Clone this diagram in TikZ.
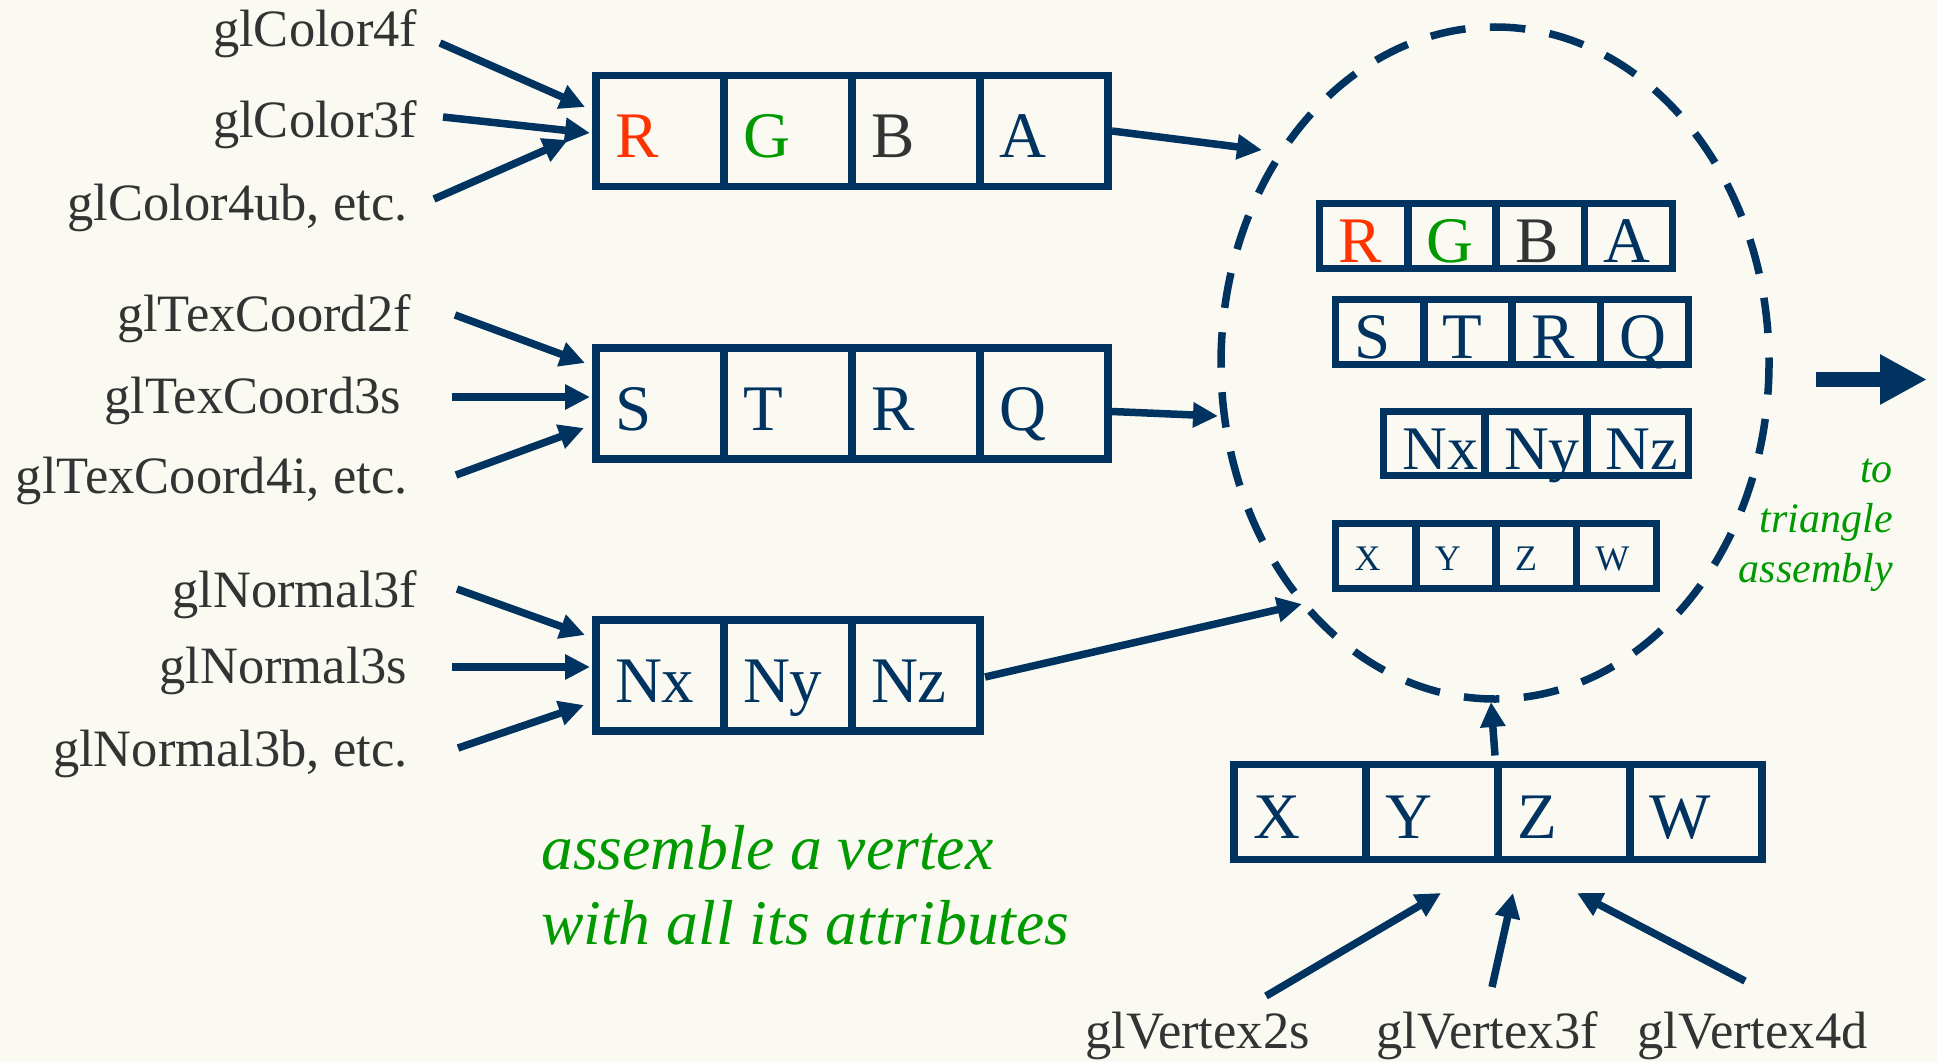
\documentclass[tikz,border=0pt]{standalone}
\usepackage{fontspec}
\setmainfont{Liberation Serif}
\usetikzlibrary{arrows.meta,shapes.geometric}

\definecolor{navy}{RGB}{0,51,96}
\definecolor{ink}{RGB}{51,51,51}
\definecolor{redch}{RGB}{255,51,0}
\definecolor{greench}{RGB}{0,153,0}
\definecolor{paper}{RGB}{250,250,243}

\tikzset{
  % one cell of an attribute register
  cellbase/.style={draw=navy, line width=7.5pt, rectangle, inner ysep=0pt,
    outer sep=0pt, text=navy, align=left, text depth=0pt},
  bigcell/.style={cellbase, minimum width=128pt, minimum height=111pt,
    text width=90pt, inner xsep=19pt, text height=53pt,
    font=\fontsize{65}{70}\selectfont},
  vtxcell/.style={cellbase, minimum width=132pt, minimum height=95pt,
    text width=94pt, inner xsep=19pt, text height=52pt,
    font=\fontsize{65}{70}\selectfont},
  smallcell/.style={cellbase, minimum width=88.25pt, minimum height=65pt,
    text width=50.25pt, inner xsep=19pt, text height=52pt,
    font=\fontsize{65}{70}\selectfont},
  normcell/.style={cellbase, minimum width=101.7pt, minimum height=64pt,
    text width=63.7pt, inner xsep=19pt, text height=51pt,
    font=\fontsize{62}{66}\selectfont},
  tinycell/.style={cellbase, minimum width=80.25pt, minimum height=65pt,
    text width=42.25pt, inner xsep=19pt, text height=28pt,
    font=\fontsize{36}{40}\selectfont},
  % function-name labels
  fname/.style={font=\fontsize{52.5}{60}\selectfont, text=ink, inner sep=0pt},
  note/.style={font=\fontsize{63.6}{75}\selectfont\itshape, text=greench, inner sep=0pt},
  smallnote/.style={font=\fontsize{42}{50}\selectfont\itshape, text=greench, inner sep=0pt},
  arr/.style={draw=navy, line width=7.5pt, -{Triangle[length=25pt,width=24pt]}},
  bigarr/.style={draw=navy, line width=15.6pt, -{Triangle[length=47pt,width=47pt]}},
  ring/.style={draw=navy, line width=7.5pt, ellipse, inner sep=0pt,
    minimum width=548pt, minimum height=672pt,
    dash pattern=on 35.5pt off 24.5pt, dash phase=30pt}
}

\begin{document}
\begin{tikzpicture}[x=1pt,y=-1pt]
  \fill[paper] (0,0) rectangle (1937,1062);
  \useasboundingbox (0,0) rectangle (1937,1062);

  % vertex being assembled
  \node[ring] (vtx) at (1495,363) {};

  % colour register
  \node[bigcell, anchor=west, text=redch] (c1) at (596,131) {R};
  \node[bigcell, anchor=west, text=greench] (c2) at (c1.east) {G};
  \node[bigcell, anchor=west, text=ink] (c3) at (c2.east) {B};
  \node[bigcell, anchor=west] (c4) at (c3.east) {A};

  % texture coordinate register
  \node[bigcell, anchor=west] (t1) at (596,403.5) {S};
  \node[bigcell, anchor=west] (t2) at (t1.east) {T};
  \node[bigcell, anchor=west] (t3) at (t2.east) {R};
  \node[bigcell, anchor=west] (t4) at (t3.east) {Q};

  % normal register
  \node[bigcell, anchor=west] (n1) at (596,675.5) {Nx};
  \node[bigcell, anchor=west] (n2) at (n1.east) {Ny};
  \node[bigcell, anchor=west] (n3) at (n2.east) {Nz};

  % position register
  \node[vtxcell, anchor=west] (p1) at (1234,812) {X};
  \node[vtxcell, anchor=west] (p2) at (p1.east) {Y};
  \node[vtxcell, anchor=west] (p3) at (p2.east) {Z};
  \node[vtxcell, anchor=west] (p4) at (p3.east) {W};

  % copies held inside the vertex
  \node[smallcell, anchor=west, text=redch] (vc1) at (1319.5,236) {R};
  \node[smallcell, anchor=west, text=greench] (vc2) at (vc1.east) {G};
  \node[smallcell, anchor=west, text=ink] (vc3) at (vc2.east) {B};
  \node[smallcell, anchor=west] (vc4) at (vc3.east) {A};

  \node[smallcell, anchor=west] (vt1) at (1335.5,332) {S};
  \node[smallcell, anchor=west] (vt2) at (vt1.east) {T};
  \node[smallcell, anchor=west] (vt3) at (vt2.east) {R};
  \node[smallcell, anchor=west] (vt4) at (vt3.east) {Q};

  \node[normcell, anchor=west] (vn1) at (1383.5,443.5) {Nx};
  \node[normcell, anchor=west] (vn2) at (vn1.east) {Ny};
  \node[normcell, anchor=west] (vn3) at (vn2.east) {Nz};

  \node[tinycell, anchor=west] (vp1) at (1335.5,556) {X};
  \node[tinycell, anchor=west] (vp2) at (vp1.east) {Y};
  \node[tinycell, anchor=west] (vp3) at (vp2.east) {Z};
  \node[tinycell, anchor=west] (vp4) at (vp3.east) {W};

  % API entry points
  \node[fname, anchor=base east] (fc1) at (417.5,47) {glColor4f};
  \node[fname, anchor=base east] (fc2) at (417.5,138) {glColor3f};
  \node[fname, anchor=base east] (fc3) at (407.6,220) {glColor4ub, etc.};
  \node[fname, anchor=base east] (ft1) at (411,331) {glTexCoord2f};
  \node[fname, anchor=base east] (ft2) at (401.5,413) {glTexCoord3s};
  \node[fname, anchor=base east] (ft3) at (407.6,493) {glTexCoord4i, etc.};
  \node[fname, anchor=base east] (fn1) at (417.5,607) {glNormal3f};
  \node[fname, anchor=base east] (fn2) at (407.6,683) {glNormal3s};
  \node[fname, anchor=base east] (fn3) at (407.6,766) {glNormal3b, etc.};
  \node[fname, anchor=base west] (fv1) at (1085,1048) {glVertex2s};
  \node[fname, anchor=base west] (fv2) at (1376,1048) {glVertex3f};
  \node[fname, anchor=base west] (fv3) at (1637,1048) {glVertex4d};

  % notes
  \node[note, anchor=base west] (asm1) at (541,869) {assemble a vertex};
  \node[note, anchor=base west] (asm2) at (541,944) {with all its attributes};
  \node[smallnote, anchor=base east] (out1) at (1893,482) {to};
  \node[smallnote, anchor=base east] (out2) at (1893,532) {triangle};
  \node[smallnote, anchor=base east] (out3) at (1893,582) {assembly};

  % free ends of the connectors
  \coordinate (sc1) at (440,43);
  \coordinate (sc2) at (443,117);
  \coordinate (sc3) at (434,199);
  \coordinate (st1) at (455,315);
  \coordinate (st2) at (452,397);
  \coordinate (st3) at (456,475);
  \coordinate (sn1) at (457,589);
  \coordinate (sn2) at (452,667);
  \coordinate (sn3) at (458,748);
  \coordinate (sv1) at (1266,996);
  \coordinate (sv2) at (1492,987);
  \coordinate (sv3) at (1745,981);
  \coordinate (ev1) at (1441,893);
  \coordinate (ev2) at (1513,893);
  \coordinate (ev3) at (1577,893);
  \coordinate (in1) at (1262,150);
  \coordinate (in2) at (1218,416);
  \coordinate (in3) at (1302,604);
  \coordinate (in4) at (1491,702);
  \coordinate (outs) at (1816,379.5);
  \coordinate (oute) at (1927,379.5);

  % calls feeding the registers
  \draw[arr] (sc1) -- ([shift={(-11,-24)}]c1.west);
  \draw[arr] (sc2) -- ([shift={(-6,2)}]c1.west);
  \draw[arr] (sc3) -- ([shift={(-28,9)}]c1.west);
  \draw[arr] (st1) -- ([shift={(-11,-40.5)}]t1.west);
  \draw[arr] (st2) -- ([shift={(-6,-6.5)}]t1.west);
  \draw[arr] (st3) -- ([shift={(-12,24.5)}]t1.west);
  \draw[arr] (sn1) -- ([shift={(-11,-40.5)}]n1.west);
  \draw[arr] (sn2) -- ([shift={(-6,-8.5)}]n1.west);
  \draw[arr] (sn3) -- ([shift={(-12,29.5)}]n1.west);
  \draw[arr] (sv1) -- (ev1);
  \draw[arr] (sv2) -- (ev2);
  \draw[arr] (sv3) -- (ev3);

  % registers copied into the vertex
  \draw[arr] ([shift={(4,0)}]c4.east) -- (in1);
  \draw[arr] ([shift={(4,8)}]t4.east) -- (in2);
  \draw[arr] ([shift={(5,1.5)}]n3.east) -- (in3);
  \draw[arr] ([shift={(-3,-9)}]p2.north east) -- (in4);

  % on to triangle assembly
  \draw[bigarr] (outs) -- (oute);
\end{tikzpicture}
\end{document}
